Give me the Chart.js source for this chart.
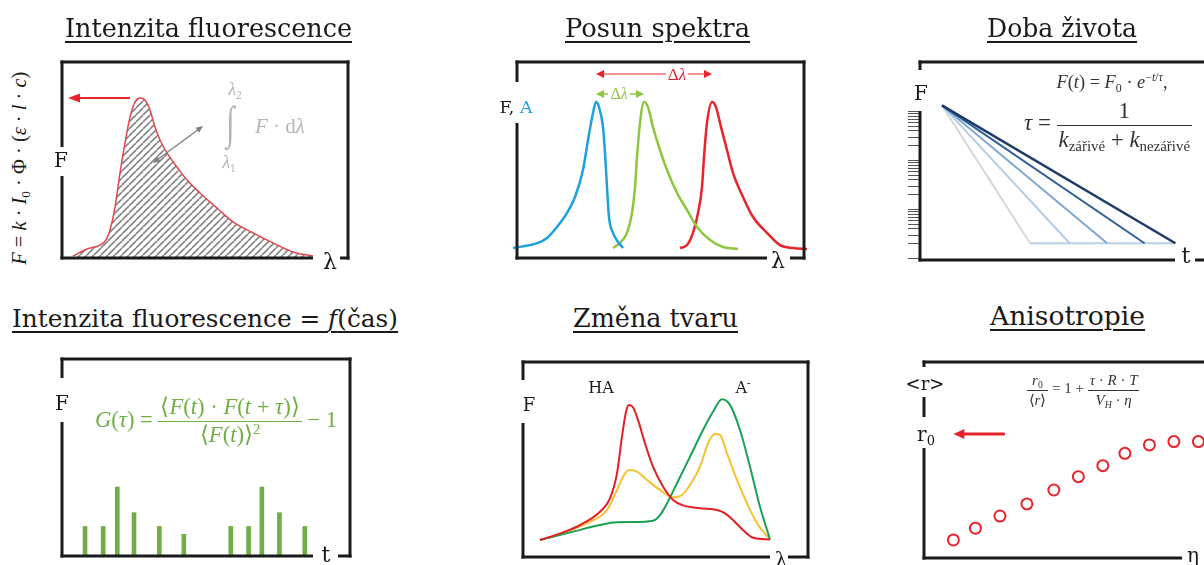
<!DOCTYPE html>
<html><head><meta charset="utf-8">
<script src="https://cdn.jsdelivr.net/npm/chart.js@4.4.0/dist/chart.umd.min.js"></script>
<style>
html,body{margin:0;padding:0;width:1204px;height:565px;overflow:hidden;background:#fff;}
#root{position:relative;width:1204px;height:565px;overflow:hidden;background:#fff;}
canvas{position:absolute;}
.lbl{position:absolute;left:0;top:0;white-space:nowrap;line-height:1;color:#1a1a1a;font-family:"DejaVu Serif",serif;}
.title{font-size:25px;text-decoration:underline;text-decoration-thickness:1.5px;text-underline-offset:4px;}
.math{font-family:"Liberation Serif",serif;}
.lbl sub{font-size:0.65em;vertical-align:-0.3em;line-height:0;}
.lbl sup{font-size:0.65em;vertical-align:0.55em;line-height:0;}
.frac{display:inline-flex;flex-direction:column;align-items:center;vertical-align:middle;line-height:1.1;}
.frac .num{border-bottom:1px solid currentColor;padding:0 2px 1px;align-self:stretch;text-align:center;}
.frac .den{padding:1px 2px 0;}
</style></head>
<body><div id="root"></div>
<script>
// ---------- DATA ----------
// Panel 1: Intenzita fluorescence (emission spectrum)
const p1Wavelength = [411,425,438,444,448,453,458,463,468,473,478,483,488,493,498,505,515,525,538,555,571,591,611,631,651];
const p1Intensity  = [1.0,4.6,6.6,9.2,14.3,26.0,43.4,58.7,71.9,79.6,81.6,80.6,75.5,66.8,60.2,53.6,46.4,39.8,33.2,25.5,18.4,12.8,7.7,3.1,1.0];
const p1PeakArrow = {fromX:468, toX:406, y:81.6};
const p1AreaArrow = {x1:491, y1:48.5, x2:541, y2:67.3};

// Panel 2: Posun spektra
const p2BlueX  = [396,421,430,440,450,458,466,471,476,479,482,486,488,490,492,496,501,506];
const p2BlueY  = [5.1,7.7,10.2,15.8,23.0,31.1,44.9,60.2,74.0,79.6,77.0,66.8,53.6,36.2,20.9,12.8,8.2,5.1];
const p2GreenX = [496,503,510,515,518,520,523,527,531,536,543,550,560,570,580,593,606,621];
const p2GreenY = [5.1,7.7,12.8,23.0,36.2,51.5,68.9,79.6,77.0,66.8,55.1,44.9,33.2,24.5,15.8,9.2,5.6,4.6];
const p2RedX   = [563,570,576,581,585,587,590,595,599,604,610,616,626,636,650,663,676,690];
const p2RedY   = [5.1,6.6,12.8,23.0,36.2,51.5,68.9,79.6,77.0,66.8,55.1,43.4,31.1,20.9,12.8,6.6,5.1,4.6];
const p2ShiftArrows = [{from:479, to:595, y:93.9, color:'#ee6f73'}, {from:479, to:527, y:83.7, color:'#8dc63f'}];

// Panel 3: Doba života (log scale decays)
const p3F0 = 1300;
const p3Floor = 2;
const p3EndTimes = [10.6, 9.2, 7.5, 5.8, 4.0];
const p3Colors = ['#1f3b68', '#2f6099', '#7ea6d3', '#b3cde8', '#d3d6db'];
const p3TickValues = [1,2,3,4,5,6,7,8,9,10,20,30,40,50,60,70,80,90,100,200,300,400,500,600,700,800,900,1000];

// Panel 4: Intenzita fluorescence = f(čas)
const p4Times  = [8.0,14.3,19.2,25.0,33.8,42.3,58.6,64.8,69.4,75.5,84.3];
const p4Counts = [15,15,35,22,15,11,15,15,35,22,15];

// Panel 5: Změna tvaru
const p5RedX    = [417,437,457,477,487,494,499,503,506,510,515,522,530,540,550,560,577,594,602,610,620,630,647];
const p5RedY    = [8.7,12.1,16.4,23.2,30.1,42.9,61.7,74.5,77.9,76.8,70.3,58.3,46.3,36.1,29.2,26.5,25.0,24.1,22.4,19.0,13.8,9.9,9.0];
const p5YellowX = [417,444,467,484,494,500,506,514,524,537,550,559,567,577,585,592,597,604,614,624,634,647];
const p5YellowY = [8.7,13.0,18.1,24.1,34.4,41.2,44.6,43.8,39.5,34.4,30.6,31.8,36.9,46.3,58.3,63.1,62.6,53.2,39.5,27.5,17.3,9.0];
const p5GreenX  = [417,450,477,494,510,530,537,544,554,567,580,590,599,607,617,627,637,647];
const p5GreenY  = [8.7,13.0,16.4,17.8,17.9,18.6,21.5,27.5,37.8,51.4,65.1,74.5,80.9,78.0,65.1,46.3,25.8,9.0];

// Panel 6: Anisotropie
const p6Viscosity  = [1.0,1.9,2.9,4.0,5.1,6.1,7.1,8.0,9.0,10.0,11.0];
const p6Anisotropy = [9.2,15.2,21.4,27.6,34.7,41.5,47.1,53.4,57.7,59.4,59.4];
const p6R0 = 63.3;
const p6R0Arrow = {fromX:3.1, toX:1.0};

// ---------- HELPERS ----------
const root = document.getElementById('root');
const M = 24;
const pts = (xs, ys) => xs.map((x,i)=>({x, y:ys[i]}));

function head(ctx, x, y, a, hl, hw){
  ctx.beginPath();
  ctx.moveTo(x, y);
  ctx.lineTo(x - hl*Math.cos(a) + hw*Math.sin(a), y - hl*Math.sin(a) - hw*Math.cos(a));
  ctx.lineTo(x - hl*Math.cos(a) - hw*Math.sin(a), y - hl*Math.sin(a) + hw*Math.cos(a));
  ctx.closePath(); ctx.fill();
}
function arrow(ctx, x1, y1, x2, y2, o){
  const a = Math.atan2(y2-y1, x2-x1);
  ctx.save();
  ctx.strokeStyle = o.line || o.color; ctx.fillStyle = o.color; ctx.lineWidth = o.lw;
  const s = o.both ? o.hl*0.7 : 0, e = o.hl*0.7;
  ctx.beginPath();
  ctx.moveTo(x1 + s*Math.cos(a), y1 + s*Math.sin(a));
  ctx.lineTo(x2 - e*Math.cos(a), y2 - e*Math.sin(a));
  ctx.stroke();
  head(ctx, x2, y2, a, o.hl, o.hw);
  if (o.both) head(ctx, x1, y1, a+Math.PI, o.hl, o.hw);
  ctx.restore();
}

function mk(frame, config, extra){
  const c = document.createElement('canvas');
  const w = frame.R-frame.L+2*M, h = frame.B-frame.T+2*M;
  c.width = w; c.height = h;
  c.style.left = (frame.L-M)+'px'; c.style.top = (frame.T-M)+'px';
  c.style.width = w+'px'; c.style.height = h+'px';
  root.appendChild(c);
  const ox = frame.L-M, oy = frame.T-M;
  config.options = Object.assign({responsive:false, maintainAspectRatio:false, animation:false, devicePixelRatio:1, layout:{padding:M}, events:[]}, config.options||{});
  config.options.plugins = Object.assign({legend:{display:false}, tooltip:{enabled:false}}, config.options.plugins||{});
  config.plugins = [{
    id:'frameDeco',
    afterDatasetsDraw(chart){ if (extra) extra(chart, chart.ctx, ox, oy); },
    afterDraw(chart){
      const ctx = chart.ctx;
      ctx.save();
      ctx.strokeStyle = '#1a1a1a'; ctx.lineWidth = 3; ctx.lineCap = 'butt';
      const seg = (x1,y1,x2,y2)=>{ if (x2-x1<=0 && y2-y1<=0) return; ctx.beginPath(); ctx.moveTo(x1-ox,y1-oy); ctx.lineTo(x2-ox,y2-oy); ctx.stroke(); };
      const withGaps = (a,b,gaps,draw)=>{ let cur=a; for (const g of gaps){ draw(cur,g[0]); cur=g[1]; } draw(cur,b); };
      seg(frame.L-1.5, frame.T, frame.R+1.5, frame.T);
      withGaps(frame.T-1.5, frame.B+1.5, frame.leftGaps||[], (a,b)=>seg(frame.L,a,frame.L,b));
      seg(frame.R, frame.T-1.5, frame.R, frame.B+1.5);
      withGaps(frame.L-1.5, frame.R+1.5, frame.bottomGaps||[], (a,b)=>seg(a,frame.B,b,frame.B));
      ctx.restore();
    }
  }];
  return new Chart(c, config);
}
const hidden = (min,max,type)=>({type:type||'linear', min, max, display:false, offset:false});

// hatch pattern
const pc = document.createElement('canvas'); pc.width = 7; pc.height = 7;
const pctx = pc.getContext('2d');
pctx.strokeStyle = '#858585'; pctx.lineWidth = 1.6;
for (const k of [-7,0,7]){ pctx.beginPath(); pctx.moveTo(k,7); pctx.lineTo(k+7,0); pctx.stroke(); }
const hatch = pctx.createPattern(pc, 'repeat');

// ---------- PANEL 1 ----------
mk({L:62,T:62,R:348,B:258,leftGaps:[[147,176]],bottomGaps:[[313,340]]}, {
  type:'line',
  data:{datasets:[{data:pts(p1Wavelength,p1Intensity), borderColor:'#e0474c', borderWidth:1.5, pointRadius:0,
    cubicInterpolationMode:'monotone', fill:'origin', backgroundColor:hatch, clip:false}]},
  options:{scales:{x:hidden(400,686), y:hidden(0,100)}}
}, (chart, ctx)=>{
  const xs = chart.scales.x, ys = chart.scales.y;
  arrow(ctx, xs.getPixelForValue(p1PeakArrow.fromX), ys.getPixelForValue(p1PeakArrow.y),
             xs.getPixelForValue(p1PeakArrow.toX), ys.getPixelForValue(p1PeakArrow.y),
             {color:'#e8232b', lw:2, hl:12, hw:4.5});
  arrow(ctx, xs.getPixelForValue(p1AreaArrow.x1), ys.getPixelForValue(p1AreaArrow.y1),
             xs.getPixelForValue(p1AreaArrow.x2), ys.getPixelForValue(p1AreaArrow.y2),
             {color:'#7f7f7f', lw:1.3, hl:7, hw:3, both:true});
});

// ---------- PANEL 2 ----------
const lineDs = (xs, ys, color, w)=>({data:pts(xs,ys), borderColor:color, borderWidth:w, pointRadius:0, cubicInterpolationMode:'monotone', fill:false, clip:false});
mk({L:517,T:62,R:804,B:258,leftGaps:[[82,123]],bottomGaps:[[767,790]]}, {
  type:'line',
  data:{datasets:[lineDs(p2BlueX,p2BlueY,'#1ba1de',2.5), lineDs(p2GreenX,p2GreenY,'#8dc63f',2.5), lineDs(p2RedX,p2RedY,'#e8232b',2.5)]},
  options:{scales:{x:hidden(400,687), y:hidden(0,100)}}
}, (chart, ctx)=>{
  const xs = chart.scales.x, ys = chart.scales.y;
  p2ShiftArrows.forEach((a,i)=>{
    const y = ys.getPixelForValue(a.y);
    arrow(ctx, xs.getPixelForValue(a.from), y, xs.getPixelForValue(a.to), y,
      {color: i===0 ? '#e8232b' : '#8dc63f', line:a.color, lw:1.5, hl:8, hw:4, both:true});
  });
});

// ---------- PANEL 3 ----------
const p3Sets = p3EndTimes.map((t,i)=>({data:[{x:0,y:p3F0},{x:t,y:p3Floor}], borderColor:p3Colors[i], borderWidth: i===0?2.5:2, pointRadius:0, tension:0, clip:false}));
p3Sets.push({data:[{x:Math.min(...p3EndTimes),y:p3Floor},{x:Math.max(...p3EndTimes),y:p3Floor}], borderColor:'#bdd0e6', borderWidth:2, pointRadius:0, clip:false});
mk({L:920,T:62,R:1215,B:260,leftGaps:[[70,111]],bottomGaps:[[1175,1195]]}, {
  type:'line',
  data:{datasets:p3Sets},
  options:{scales:{x:hidden(-1,12.4), y:hidden(0.91,10000,'logarithmic')}}
}, (chart, ctx)=>{
  const ys = chart.scales.y, L = chart.chartArea.left;
  ctx.save(); ctx.strokeStyle = '#555'; ctx.lineWidth = 1;
  p3TickValues.forEach(v=>{
    const y = Math.round(ys.getPixelForValue(v))+0.5;
    ctx.beginPath(); ctx.moveTo(L-12, y); ctx.lineTo(L, y); ctx.stroke();
  });
  ctx.restore();
});

// ---------- PANEL 4 ----------
mk({L:62,T:359,R:350,B:556,leftGaps:[[378,422]],bottomGaps:[[313,338]]}, {
  type:'bar',
  data:{datasets:[{data:pts(p4Times,p4Counts), backgroundColor:'#70ad47', barThickness:4, borderWidth:0}]},
  options:{scales:{x:hidden(0,100), y:hidden(0,100)}}
});

// ---------- PANEL 5 ----------
mk({L:523,T:362,R:808,B:557,leftGaps:[[380,423]],bottomGaps:[[770,788]]}, {
  type:'line',
  data:{datasets:[lineDs(p5RedX,p5RedY,'#e31e24',2), lineDs(p5GreenX,p5GreenY,'#1aa052',2), lineDs(p5YellowX,p5YellowY,'#f5c12e',2)]},
  options:{scales:{x:hidden(400,685), y:hidden(0,100)}}
});

// ---------- PANEL 6 ----------
mk({L:924,T:362,R:1230,B:558,leftGaps:[[367,397],[417,448]],bottomGaps:[[1182,1206]]}, {
  type:'scatter',
  data:{datasets:[{data:pts(p6Viscosity,p6Anisotropy), pointRadius:5.5, pointBorderWidth:2, borderColor:'#e8232b', backgroundColor:'#ffffff', pointStyle:'circle', clip:false}]},
  options:{scales:{x:hidden(-0.2,12.29), y:hidden(0,100)}}
}, (chart, ctx)=>{
  const xs = chart.scales.x, ys = chart.scales.y;
  const y = ys.getPixelForValue(p6R0);
  arrow(ctx, xs.getPixelForValue(p6R0Arrow.fromX), y, xs.getPixelForValue(p6R0Arrow.toX), y, {color:'#e8232b', lw:3, hl:11, hw:5});
});

// ---------- TEXT ----------
const frac = (n,d)=>`<span class="frac"><span class="num">${n}</span><span class="den">${d}</span></span>`;
const labels = [
  {html:'Intenzita fluorescence', cls:'title', cx:208.5, base:37, w:287},
  {html:'Posun spektra', cls:'title', cx:657.5, base:37, w:185},
  {html:'Doba života', cls:'title', cx:1062, base:37, w:150},
  {html:'Intenzita fluorescence = <i>f</i>(čas)', cls:'title', cx:205, base:327, w:386},
  {html:'Změna tvaru', cls:'title', cx:655.5, base:327, w:165},
  {html:'Anisotropie', cls:'title', cx:1067.5, base:325, w:155},

  {html:'F', size:20, cx:61, base:167},
  {html:'λ', size:22, cx:330, base:269},
  {html:'F, <span style="color:#1ba1de">A</span>', size:16, cx:516, base:113, w:33},
  {html:'λ', size:22, cx:778, base:268},
  {html:'F', size:20, cx:921, base:100},
  {html:'t', size:22, cx:1186, base:263},
  {html:'F', size:20, cx:62, base:410},
  {html:'t', size:22, cx:326, base:562},
  {html:'F', size:18, cx:529, base:411},
  {html:'λ', size:20, cx:781, base:567},
  {html:'HA', size:16, cx:601, base:393},
  {html:'A<sup>-</sup>', size:16, cx:743, base:393},
  {html:'&lt;r&gt;', size:18, cx:925, base:390},
  {html:'r<sub>0</sub>', size:20, cx:926, base:441},
  {html:'η', size:20, cx:1193, base:562},

  {html:'<i>F</i> = <i>k</i> · <i>I</i><sub>0</sub> · Φ · (<i>ε</i> · <i>l</i> · <i>c</i>)', cls:'math', size:19, cx:19, cy:168, w:193, rot:-90},
  {html:'<i>λ</i><sub>2</sub>', cls:'math', size:18, cx:235, cy:89, color:'#b5b5b5'},
  {html:'∫', cls:'math', size:40, cx:230, cy:123, color:'#b5b5b5', sx:0.75, sy:1.15},
  {html:'<i>λ</i><sub>1</sub>', cls:'math', size:18, cx:229, cy:162, color:'#b5b5b5'},
  {html:'<i>F</i> · d<i>λ</i>', cls:'math', size:21, cx:280, cy:126, color:'#b5b5b5'},

  {html:'Δ<i>λ</i>', cls:'math', size:17, cx:677, cy:74, color:'#e8232b', bg:'#fff'},
  {html:'Δ<i>λ</i>', cls:'math', size:16, cx:619, cy:94, color:'#8dc63f', bg:'#fff'},

  {html:'<i>F</i>(<i>t</i>) = <i>F</i><sub>0</sub> · <i>e</i><sup>−<i>t</i>/<i>τ</i></sup>,', cls:'math', size:16, cx:1112, cy:82, w:111, color:'#333'},
  {html:'<i>τ</i> = '+frac('1','<i>k</i><sub>zářivé</sub> + <i>k</i><sub>nezářivé</sub>'), cls:'math', size:16, cx:1108, cy:125, w:168, color:'#333'},

  {html:'<i>G</i>(<i>τ</i>) = '+frac('⟨<i>F</i>(<i>t</i>) · <i>F</i>(<i>t</i> + <i>τ</i>)⟩','⟨<i>F</i>(<i>t</i>)⟩<sup>2</sup>')+' − 1', cls:'math', size:19, cx:216, cy:421, w:242, color:'#70ad47'},

  {html:frac('<i>r</i><sub>0</sub>','⟨<i>r</i>⟩')+' = 1 + '+frac('<i>τ</i> · <i>R</i> · <i>T</i>','<i>V</i><sub><i>H</i></sub> · <i>η</i>'), cls:'math', size:13, cx:1083, cy:390, w:113, color:'#333'}
];

function place(d){
  const el = document.createElement('div');
  el.className = 'lbl ' + (d.cls||'');
  el.innerHTML = d.html;
  if (d.size) el.style.fontSize = d.size+'px';
  if (d.color) el.style.color = d.color;
  if (d.bg){ el.style.background = d.bg; el.style.padding = '0 2px'; }
  root.appendChild(el);
  if (d.w){
    let fs = parseFloat(getComputedStyle(el).fontSize);
    for (let k=0;k<3;k++){ const w = el.getBoundingClientRect().width; fs *= d.w / w; el.style.fontSize = fs+'px'; }
  }
  const r = el.getBoundingClientRect();
  el.style.left = (d.cx - r.width/2)+'px';
  if (d.base !== undefined){
    const m = document.createElement('span');
    m.style.cssText = 'display:inline-block;width:0;height:0;';
    el.appendChild(m);
    const off = m.getBoundingClientRect().bottom - el.getBoundingClientRect().top;
    m.remove();
    el.style.top = (d.base - off)+'px';
  } else {
    el.style.top = (d.cy - r.height/2)+'px';
  }
  let tf = '';
  if (d.rot) tf += `rotate(${d.rot}deg) `;
  if (d.sx || d.sy) tf += `scale(${d.sx||1},${d.sy||1})`;
  if (tf) el.style.transform = tf;
}
labels.forEach(place);
</script>
</body></html>
